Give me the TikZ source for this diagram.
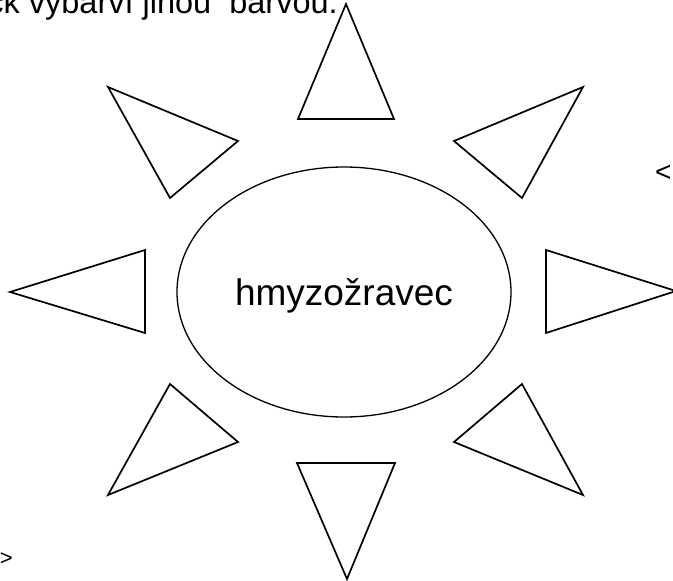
\documentclass[tikz,border=0pt]{standalone}
\usepackage{fontspec}
\setmainfont{Liberation Sans}
\usetikzlibrary{shapes.geometric}
\begin{document}
\begin{tikzpicture}[x=1pt,y=-1pt,
  ray/.style={draw=black, line width=1.7pt, line join=miter},
  core/.style={draw=black, ellipse, line width=1.3pt, inner sep=0pt,
    minimum width=334pt, minimum height=250pt,
    text height=27pt, text depth=1pt,
    font=\fontsize{37}{44}\selectfont},
  toptext/.style={inner sep=0pt, font=\fontsize{32.5}{38}\selectfont},
  edgesign/.style={inner sep=0pt}]
\clip (0,0) rectangle (673,581);
\fill[white] (0,0) rectangle (673,581);
% top text (clipped by the page edge)
\node[toptext, anchor=base east] (caption) at (338,13) {ck vybarví jinou\ \ barvou.};
% stray marks at the edges
\node[edgesign, anchor=west, font=\fontsize{28}{32}\selectfont] (lt) at (655,173) {<};
\node[edgesign, anchor=east, font=\fontsize{22}{26}\selectfont] (gt) at (13,559) {>};
% rays
\draw[ray] (346,4) -- (394,119) -- (298,119) -- cycle;
\draw[ray] (347,579) -- (395,463) -- (297,463) -- cycle;
\draw[ray] (676,291) -- (546,250) -- (546,333) -- cycle;
\draw[ray] (10,292) -- (145,250) -- (145,333) -- cycle;
\draw[ray] (108,87) -- (238,141) -- (170,198) -- cycle;
\draw[ray] (583,87) -- (454,141) -- (522,198) -- cycle;
\draw[ray] (170,384) -- (238,442) -- (108,495) -- cycle;
\draw[ray] (522,384) -- (454,442) -- (583,495) -- cycle;
% centre
\node[core] (sun) at (344,292) {hmyzožravec};
\end{tikzpicture}
\end{document}
